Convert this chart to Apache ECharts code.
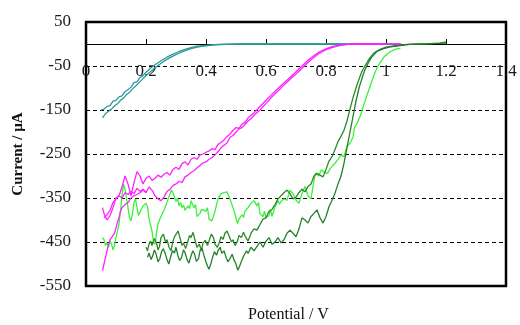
<!DOCTYPE html>
<html>
<head>
<meta charset="utf-8">
<script src="https://cdn.jsdelivr.net/npm/echarts@6/dist/echarts.min.js"></script>
<style>html,body{margin:0;padding:0;background:#fff;}#c{width:520px;height:325px;}</style>
</head>
<body>
<div id="c"></div>
<script>
var xTicks = [0, 0.2, 0.4, 0.6, 0.8, 1.0, 1.2, 1.4];
var yTicks = [-550, -450, -350, -250, -150, -50, 50];

var tealA = [[0.055,-168],[0.065,-158],[0.075,-153],[0.085,-148],[0.095,-141],[0.105,-136],[0.115,-128],[0.125,-123],[0.135,-115],[0.145,-110],[0.155,-102],[0.165,-96],[0.175,-89],[0.185,-82],[0.195,-75],[0.21,-66],[0.225,-57],[0.24,-49],[0.26,-39],[0.28,-31],[0.30,-24],[0.32,-18],[0.34,-13],[0.36,-9],[0.38,-6],[0.40,-4],[0.43,-2],[0.47,-1],[0.52,0],[0.6,0],[0.7,0],[0.8,0],[0.9,0],[1.0,0],[1.05,0]];
var tealB = [[0.05,-150],[0.06,-148],[0.07,-142],[0.08,-140],[0.09,-130],[0.10,-128],[0.11,-120],[0.12,-118],[0.13,-108],[0.14,-104],[0.15,-98],[0.16,-88],[0.17,-86],[0.18,-76],[0.19,-72],[0.20,-64],[0.215,-55],[0.23,-47],[0.25,-38],[0.27,-30],[0.29,-23],[0.31,-17],[0.33,-12],[0.35,-8],[0.37,-5],[0.40,-3],[0.44,-1],[0.5,0],[0.7,0],[0.9,0],[1.04,0]];

var magentaA = [[0.055,-372],[0.06,-385],[0.07,-400],[0.08,-390],[0.09,-372],[0.10,-350],[0.11,-345],[0.12,-325],[0.13,-300],[0.14,-318],[0.15,-345],[0.16,-315],[0.17,-290],[0.18,-300],[0.19,-318],[0.20,-305],[0.21,-300],[0.22,-310],[0.23,-305],[0.24,-298],[0.25,-303],[0.26,-296],[0.27,-292],[0.28,-298],[0.29,-285],[0.30,-280],[0.31,-285],[0.32,-272],[0.33,-268],[0.34,-275],[0.35,-262],[0.36,-258],[0.37,-262],[0.38,-252],[0.39,-250],[0.40,-246],[0.41,-243],[0.42,-238],[0.43,-240],[0.44,-228],[0.45,-224],[0.46,-218],[0.47,-210],[0.48,-205],[0.49,-196],[0.50,-190],[0.51,-192],[0.52,-182],[0.53,-178],[0.54,-168],[0.55,-162],[0.56,-156],[0.58,-142],[0.60,-128],[0.62,-114],[0.64,-101],[0.66,-88],[0.68,-76],[0.70,-63],[0.72,-50],[0.74,-37],[0.76,-26],[0.78,-17],[0.80,-11],[0.82,-6],[0.84,-3],[0.87,-1],[0.9,0],[1.0,0],[1.05,0]];
var magentaB = [[0.06,-395],[0.07,-388],[0.08,-378],[0.09,-360],[0.10,-352],[0.11,-345],[0.12,-350],[0.13,-338],[0.14,-342],[0.15,-335],[0.16,-340],[0.17,-328],[0.18,-335],[0.19,-330],[0.20,-338],[0.21,-325],[0.22,-332],[0.23,-345],[0.24,-352],[0.25,-356],[0.26,-348],[0.27,-335],[0.28,-330],[0.29,-322],[0.30,-318],[0.31,-312],[0.32,-315],[0.33,-302],[0.34,-298],[0.35,-292],[0.36,-288],[0.37,-282],[0.38,-276],[0.39,-270],[0.40,-268],[0.41,-262],[0.42,-258],[0.43,-252],[0.44,-245],[0.45,-236],[0.46,-230],[0.47,-225],[0.48,-212],[0.49,-208],[0.50,-200],[0.51,-193],[0.52,-190],[0.53,-183],[0.54,-175],[0.55,-170],[0.56,-162],[0.58,-150],[0.60,-135],[0.62,-120],[0.64,-107],[0.66,-93],[0.68,-80],[0.70,-68],[0.72,-55],[0.74,-42],[0.76,-30],[0.78,-20],[0.80,-13],[0.82,-8],[0.84,-4],[0.87,-1],[0.9,0],[1.0,0]];
var magentaC = [[0.055,-515],[0.06,-500],[0.065,-485],[0.07,-470],[0.075,-455],[0.08,-445],[0.085,-440],[0.09,-435],[0.095,-430],[0.10,-418],[0.105,-405],[0.11,-395],[0.115,-380],[0.12,-372],[0.13,-365],[0.14,-360],[0.15,-350],[0.16,-345],[0.17,-342],[0.18,-338],[0.19,-332],[0.20,-336]];

var lightGreen = [[0.055,-440],[0.06,-445],[0.065,-458],[0.07,-452],[0.075,-462],[0.08,-448],[0.085,-455],[0.09,-468],[0.095,-458],[0.10,-440],[0.105,-425],[0.11,-408],[0.115,-380],[0.12,-345],[0.125,-318],[0.13,-330],[0.135,-350],[0.14,-372],[0.145,-395],[0.15,-402],[0.155,-385],[0.16,-360],[0.165,-352],[0.17,-372],[0.175,-390],[0.18,-392],[0.185,-375],[0.19,-368],[0.195,-372],[0.20,-362],[0.205,-370],[0.21,-395],[0.215,-412],[0.22,-425],[0.225,-450],[0.23,-455],[0.235,-430],[0.24,-408],[0.25,-392],[0.26,-378],[0.27,-360],[0.28,-340],[0.285,-332],[0.29,-338],[0.30,-358],[0.305,-350],[0.31,-368],[0.315,-360],[0.32,-372],[0.325,-366],[0.33,-378],[0.34,-368],[0.345,-374],[0.35,-356],[0.36,-372],[0.365,-365],[0.37,-392],[0.38,-385],[0.385,-376],[0.39,-372],[0.40,-380],[0.405,-372],[0.41,-398],[0.42,-402],[0.43,-380],[0.44,-352],[0.45,-340],[0.46,-338],[0.47,-336],[0.48,-352],[0.49,-372],[0.50,-395],[0.505,-408],[0.51,-398],[0.52,-388],[0.525,-394],[0.53,-380],[0.54,-372],[0.55,-362],[0.56,-356],[0.57,-368],[0.575,-360],[0.58,-386],[0.59,-392],[0.595,-380],[0.60,-395],[0.61,-390],[0.615,-376],[0.62,-392],[0.63,-370],[0.64,-356],[0.645,-364],[0.65,-358],[0.66,-352],[0.67,-355],[0.68,-332],[0.69,-340],[0.70,-355],[0.71,-362],[0.72,-340],[0.73,-324],[0.74,-345],[0.75,-352],[0.76,-310],[0.765,-294],[0.775,-300],[0.785,-286],[0.795,-292],[0.805,-294],[0.815,-282],[0.83,-271],[0.84,-262],[0.85,-252],[0.86,-256],[0.87,-233],[0.88,-225],[0.89,-212],[0.895,-190],[0.905,-178],[0.915,-162],[0.925,-140],[0.935,-120],[0.945,-100],[0.955,-80],[0.965,-62],[0.975,-48],[0.985,-38],[0.995,-28],[1.005,-23],[1.015,-17],[1.025,-14],[1.035,-11],[1.048,-10]];

var darkGreenA = [[0.20,-462],[0.205,-470],[0.21,-455],[0.215,-448],[0.22,-458],[0.228,-442],[0.235,-452],[0.24,-468],[0.245,-460],[0.25,-440],[0.258,-432],[0.265,-450],[0.27,-445],[0.277,-462],[0.283,-470],[0.29,-448],[0.295,-438],[0.30,-442],[0.307,-425],[0.313,-440],[0.32,-458],[0.325,-452],[0.332,-465],[0.34,-448],[0.345,-435],[0.35,-440],[0.357,-428],[0.363,-445],[0.37,-462],[0.378,-455],[0.385,-470],[0.39,-452],[0.398,-446],[0.405,-458],[0.41,-448],[0.418,-432],[0.425,-440],[0.43,-455],[0.438,-462],[0.445,-450],[0.45,-438],[0.457,-444],[0.463,-430],[0.47,-425],[0.478,-438],[0.485,-450],[0.49,-445],[0.497,-458],[0.505,-448],[0.51,-435],[0.518,-440],[0.525,-428],[0.53,-436],[0.54,-448],[0.545,-440],[0.55,-430],[0.56,-420],[0.57,-423],[0.58,-410],[0.59,-398],[0.60,-395],[0.61,-380],[0.62,-376],[0.63,-365],[0.64,-352],[0.65,-345],[0.66,-338],[0.67,-332],[0.68,-340],[0.69,-352],[0.70,-348],[0.71,-338],[0.72,-330],[0.73,-336],[0.74,-324],[0.75,-318],[0.76,-300],[0.77,-294],[0.78,-298],[0.79,-302],[0.80,-285],[0.81,-266],[0.82,-256],[0.83,-240],[0.84,-222],[0.85,-210],[0.86,-196],[0.87,-175],[0.88,-148],[0.89,-122],[0.90,-100],[0.91,-80],[0.92,-62],[0.93,-50],[0.94,-38],[0.95,-28],[0.96,-20],[0.98,-12],[1.0,-7],[1.03,-4],[1.07,-1],[1.1,0],[1.15,1],[1.18,2],[1.2,5]];
var darkGreenB = [[0.205,-485],[0.21,-475],[0.217,-490],[0.222,-482],[0.228,-468],[0.234,-478],[0.24,-495],[0.246,-488],[0.252,-472],[0.258,-465],[0.265,-478],[0.27,-490],[0.276,-500],[0.282,-484],[0.288,-470],[0.295,-475],[0.30,-462],[0.306,-480],[0.312,-492],[0.318,-486],[0.325,-468],[0.33,-474],[0.337,-490],[0.343,-498],[0.35,-482],[0.356,-470],[0.362,-478],[0.368,-494],[0.375,-488],[0.38,-470],[0.387,-465],[0.393,-480],[0.40,-495],[0.405,-505],[0.41,-512],[0.416,-500],[0.422,-485],[0.428,-472],[0.435,-480],[0.44,-470],[0.447,-462],[0.453,-476],[0.46,-470],[0.467,-485],[0.473,-495],[0.48,-488],[0.487,-478],[0.493,-490],[0.50,-500],[0.506,-514],[0.512,-505],[0.52,-490],[0.527,-480],[0.535,-470],[0.54,-476],[0.55,-462],[0.56,-470],[0.57,-460],[0.58,-450],[0.59,-462],[0.60,-448],[0.61,-440],[0.62,-455],[0.63,-450],[0.64,-440],[0.65,-452],[0.66,-445],[0.67,-430],[0.68,-423],[0.69,-430],[0.70,-438],[0.71,-420],[0.72,-395],[0.73,-400],[0.74,-407],[0.75,-392],[0.76,-385],[0.77,-377],[0.78,-395],[0.79,-407],[0.80,-392],[0.81,-370],[0.82,-355],[0.83,-339],[0.84,-318],[0.85,-300],[0.86,-271],[0.87,-235],[0.88,-200],[0.89,-165],[0.90,-130],[0.91,-100],[0.92,-78],[0.93,-58],[0.94,-44],[0.95,-32],[0.96,-24],[0.97,-17],[0.99,-11],[1.01,-7],[1.04,-4],[1.08,-1],[1.12,0],[1.2,2]];

var xTitle = 'Potential / V';
var yTitle = 'Current / µA';

var FONT = 'Liberation Serif';
var GRID_TOP = 22, GRID_BOTTOM = 39, CH = 325;
var zeroOffset = -((CH - GRID_TOP - GRID_BOTTOM) * (yTicks[yTicks.length - 1] - 0) / (yTicks[yTicks.length - 1] - yTicks[0]));
function line(data, color) {
  return { type: 'line', data: data, showSymbol: false, symbol: 'none', animation: false,
           lineStyle: { color: color, width: 1.3 } };
}
var chart = echarts.init(document.getElementById('c'));
chart.setOption({
  animation: false,
  backgroundColor: '#ffffff',
  grid: { left: 86, right: 14, top: GRID_TOP, bottom: GRID_BOTTOM, show: true, borderColor: '#000', borderWidth: 2.5,
          backgroundColor: 'transparent', containLabel: false, outerBoundsMode: 'none' },
  graphic: [{
    type: 'text', left: 248, top: 307,
    style: { text: xTitle, font: '16px "Liberation Serif"', fill: '#111' }
  }],
  xAxis: {
    type: 'value', position: 'top', offset: zeroOffset,
    min: xTicks[0], max: xTicks[xTicks.length - 1], interval: 0.2,
    axisLine: { onZero: false, lineStyle: { color: '#000', width: 1 } },
    axisTick: { inside: false, length: 5, lineStyle: { color: '#000' } },
    axisLabel: { inside: true, fontFamily: FONT, fontSize: 17, color: '#1a1a1a', margin: 19,
                 formatter: function (v) { return String(Math.round(v * 10) / 10); } },
    splitLine: { show: false }
  },
  yAxis: {
    type: 'value', min: yTicks[0], max: yTicks[yTicks.length - 1], interval: 100,
    axisLine: { show: false }, axisTick: { show: false },
    axisLabel: { fontFamily: FONT, fontSize: 17, color: '#1a1a1a', margin: 15 },
    splitLine: { show: true, lineStyle: { color: '#000', width: 1, type: [4, 3] } },
    name: yTitle, nameLocation: 'middle', nameGap: 60, nameRotate: 90,
    nameTextStyle: { fontFamily: FONT, fontSize: 15, fontWeight: 'bold', color: '#111' }
  },
  series: [
    line(tealA, '#2e9a96'), line(tealB, '#2e9a96'),
    line(lightGreen, '#3cf03c'),
    line(darkGreenA, '#2a8a2a'), line(darkGreenB, '#22802a'),
    line(magentaA, '#ff22ff'), line(magentaB, '#ff22ff'), line(magentaC, '#ff22ff')
  ]
});
</script>
</body>
</html>
